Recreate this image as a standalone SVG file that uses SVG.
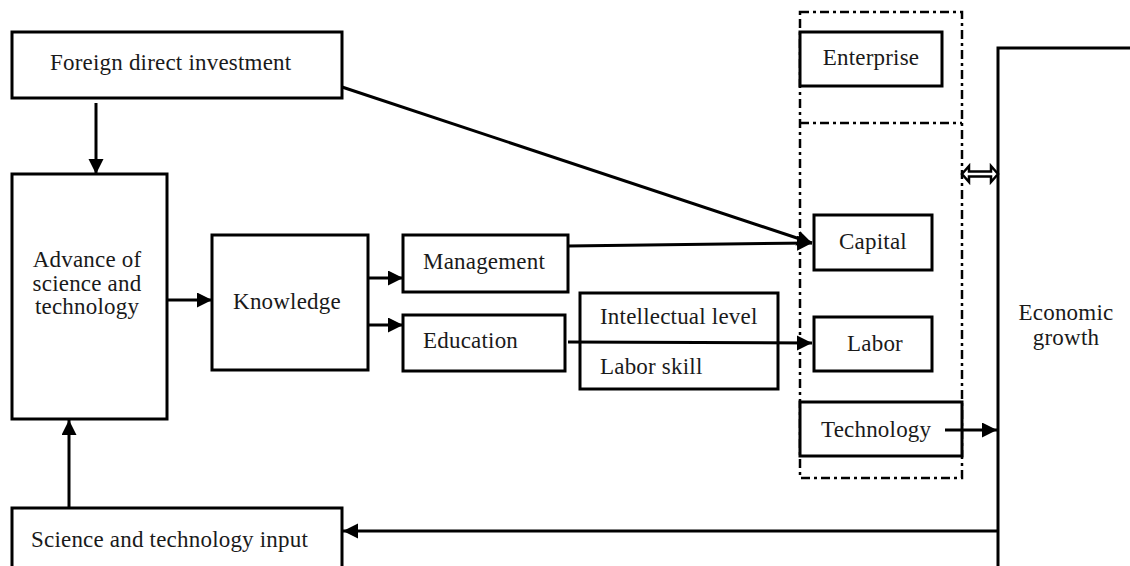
<svg xmlns="http://www.w3.org/2000/svg" width="1130" height="566" viewBox="0 0 1130 566">
<style>
.box{fill:#fff;stroke:#000;stroke-width:3}
.dd{fill:none;stroke:#000;stroke-width:2.5;stroke-dasharray:9 4 3 4}
.t{font-family:"Liberation Serif","Times New Roman",serif;font-size:23px;letter-spacing:0.2px;fill:#1a1a1a}
.c{text-anchor:middle}
.ln{fill:none;stroke:#000;stroke-width:3}
.arr{marker-end:url(#ah)}
</style>
<defs>
<marker id="ah" markerUnits="userSpaceOnUse" markerWidth="16" markerHeight="16" refX="15" refY="7.5" orient="auto">
<path d="M0,0 L15,7.5 L0,15 z" fill="#000"/>
</marker>
</defs>
<rect width="1130" height="566" fill="#fff"/>

<g id="sector-frame">
<rect class="dd" x="800" y="12" width="162" height="466"/>
<line class="dd" x1="800" y1="123" x2="962" y2="123"/>
</g>

<g id="fdi">
<rect class="box" x="12" y="32" width="330" height="66"/>
<text class="t" x="50" y="70">Foreign direct investment</text>
</g>

<g id="advance">
<rect class="box" x="12" y="174" width="155" height="245"/>
<text class="t c" x="87" y="267">Advance of</text>
<text class="t c" x="87" y="291">science and</text>
<text class="t c" x="87" y="314">technology</text>
</g>

<g id="knowledge">
<rect class="box" x="212" y="235" width="156" height="135"/>
<text class="t c" x="287" y="309">Knowledge</text>
</g>

<g id="management">
<rect class="box" x="403" y="235" width="165" height="57"/>
<text class="t" x="423" y="269">Management</text>
</g>

<g id="education">
<rect class="box" x="403" y="315" width="162" height="56"/>
<text class="t" x="423" y="348">Education</text>
</g>

<g id="intellect-skill">
<rect class="box" x="580" y="293" width="198" height="96"/>
<text class="t" x="600" y="324">Intellectual level</text>
<text class="t" x="600" y="374">Labor skill</text>
</g>

<g id="enterprise">
<rect class="box" x="800" y="32" width="142" height="54"/>
<text class="t c" x="871" y="65">Enterprise</text>
</g>

<g id="capital">
<rect class="box" x="814" y="215" width="118" height="55"/>
<text class="t c" x="873" y="249">Capital</text>
</g>

<g id="labor">
<rect class="box" x="814" y="317" width="118" height="54"/>
<text class="t c" x="875" y="351">Labor</text>
</g>

<g id="technology">
<rect class="box" x="800" y="402" width="162" height="54"/>
<text class="t" x="821" y="437">Technology</text>
</g>

<g id="economic-growth">
<polyline class="ln" points="1132,48 998,48 998,570"/>
<text class="t c" x="1066" y="320">Economic</text>
<text class="t c" x="1066" y="345">growth</text>
</g>

<g id="st-input">
<rect class="box" x="12" y="508" width="330" height="70"/>
<text class="t" x="31" y="547">Science and technology input</text>
</g>

<g id="connectors">
<line class="ln arr" x1="96" y1="103" x2="96" y2="174"/>
<line class="ln arr" x1="69" y1="508" x2="69" y2="420"/>
<line class="ln arr" x1="167" y1="300" x2="212" y2="300"/>
<line class="ln arr" x1="368" y1="278" x2="403" y2="278"/>
<line class="ln arr" x1="368" y1="325" x2="403" y2="325"/>
<line class="ln arr" x1="342" y1="87" x2="812" y2="243"/>
<line class="ln arr" x1="568" y1="246" x2="812" y2="243"/>
<line class="ln arr" x1="568" y1="342" x2="812" y2="343"/>
<line class="ln arr" x1="945" y1="430" x2="997" y2="430"/>
<line class="ln arr" x1="998" y1="531" x2="343" y2="531"/>
<path d="M962,174 L969,166 L969,171.5 L991,171.5 L991,166 L998,174 L991,182 L991,176.5 L969,176.5 L969,182 Z" fill="#fff" stroke="#000" stroke-width="2.5" stroke-linejoin="miter"/>
</g>
</svg>
